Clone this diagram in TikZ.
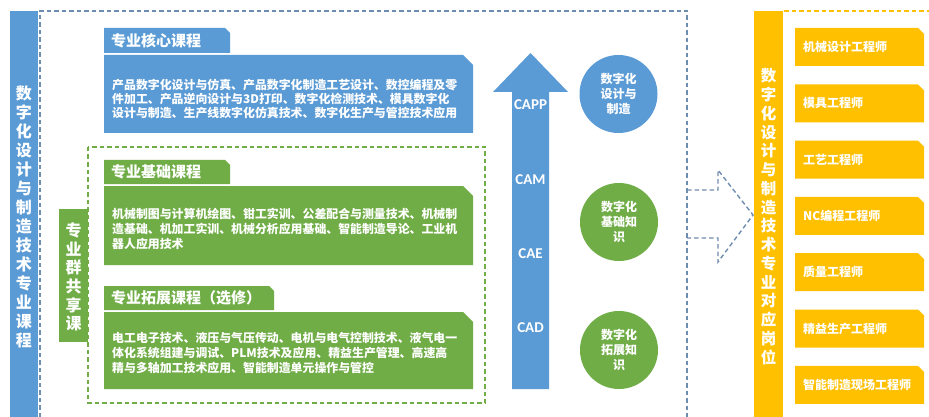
\documentclass[tikz,border=0pt]{standalone}
\usepackage{fontspec}
\setmainfont{Noto Sans CJK SC}
\newfontfamily\latinfont{Carlito}
\definecolor{cblue}{HTML}{5B9BD5}
\definecolor{cgreen}{HTML}{70AD47}
\definecolor{cyellow}{HTML}{FFC000}
\definecolor{cframe}{HTML}{6F8DB1}
\begin{document}
\begin{tikzpicture}[x=1pt,y=-1pt,
  bodytxt/.style={text=white,font=\bfseries\fontsize{11.9}{13.8}\selectfont,align=left,inner sep=0pt,anchor=west},
  headtxt/.style={text=white,font=\bfseries\fontsize{15}{18}\selectfont,inner sep=0pt,anchor=west},
  vtxt/.style={text=white,font=\bfseries\fontsize{16}{19}\selectfont,align=center,inner sep=0pt},
  jobtxt/.style={text=white,font=\bfseries\fontsize{12}{14}\selectfont,inner sep=0pt,anchor=west},
  circtxt/.style={text=white,font=\bfseries\fontsize{12}{15}\selectfont,align=center,inner sep=0pt},
  cadtxt/.style={text=white,font=\latinfont\bfseries\fontsize{15}{16}\selectfont,inner sep=0pt},
  dashline/.style={line width=1.4pt,dash pattern=on 4.5pt off 3pt},
  bigcirc/.style={circle,minimum size=78pt,inner sep=0pt}
]
\useasboundingbox (0,0) rectangle (929,417);
\fill[white] (0,0) rectangle (929,417);

% left blue bar
\fill[cblue] (10,11) rectangle (38,417);
\node[vtxt] (lefttitle) at (24,217) {数\\字\\化\\设\\计\\与\\制\\造\\技\\术\\专\\业\\课\\程};

% blue dashed frame
\draw[cframe,dashline] (40,417) -- (40,11) -- (687,11) -- (687,417);

% dashed arrow
\draw[cframe,dashline] (687,190) -- (718,190) -- (718,170) -- (753,215) -- (718,262) -- (718,238) -- (687,238);

% core course
\fill[cblue] (104,53) -- (104,28) -- (225,28) -- (230,33) -- (230,53) -- cycle;
\node[headtxt] (corehead) at (111,41) {专业核心课程};
\fill[cblue] (104,55) -- (463,55) -- (473,65) -- (473,133) -- (104,133) -- cycle;
\node[bodytxt,font=\bfseries\fontsize{11.9}{13.6}\selectfont] (corebody) at (112,99) {产品数字化设计与仿真、产品数字化制造工艺设计、数控编程及零\\件加工、产品逆向设计与3D打印、数字化检测技术、模具数字化\\设计与制造、生产线数字化仿真技术、数字化生产与管控技术应用};

% green dashed frame
\draw[cgreen,dashline] (88,147) rectangle (485,403);

% shared course bar
\fill[cgreen] (59,209) rectangle (88,342);
\node[vtxt,font=\bfseries\fontsize{16}{18.6}\selectfont] (shared) at (73.5,277) {专\\业\\群\\共\\享\\课};

% foundation course
\fill[cgreen] (104,184) -- (104,160) -- (225,160) -- (230,165) -- (230,184) -- cycle;
\node[headtxt] (basehead) at (111,172) {专业基础课程};
\fill[cgreen] (104,186) -- (463,186) -- (473,196) -- (473,265) -- (104,265) -- cycle;
\node[bodytxt,font=\bfseries\fontsize{11.9}{15}\selectfont] (basebody) at (112,229) {机械制图与计算机绘图、钳工实训、公差配合与测量技术、机械制\\造基础、机加工实训、机械分析应用基础、智能制造导论、工业机\\器人应用技术};

% expansion course
\fill[cgreen] (104,310) -- (104,286) -- (269,286) -- (274,291) -- (274,310) -- cycle;
\node[headtxt] (exthead) at (111,298) {专业拓展课程（选修）};
\fill[cgreen] (104,312) -- (463,312) -- (473,322) -- (473,389) -- (104,389) -- cycle;
\node[bodytxt,font=\bfseries\fontsize{11.9}{15}\selectfont] (extbody) at (112,353) {电工电子技术、液压与气压传动、电机与电气控制技术、液气电一\\体化系统组建与调试、PLM技术及应用、精益生产管理、高速高\\精与多轴加工技术应用、智能制造单元操作与管控};

% big arrow
\fill[cblue] (512,389) -- (512,92) -- (493,92) -- (530.5,53) -- (568,92) -- (549,92) -- (549,389) -- cycle;
\node[cadtxt] (capp) at (530.5,105) {CAPP};
\node[cadtxt] (cam) at (530.5,180) {CAM};
\node[cadtxt] (cae) at (530.5,254) {CAE};
\node[cadtxt] (cad) at (530.5,328) {CAD};

% circles
\node[bigcirc,fill=cblue] (c1) at (618.5,94) {};
\node[circtxt] (c1t) at (c1) {数字化\\设计与\\制造};
\node[bigcirc,fill=cgreen] (c2) at (619,222) {};
\node[circtxt] (c2t) at (c2) {数字化\\基础知\\识};
\node[bigcirc,fill=cgreen] (c3) at (619,350) {};
\node[circtxt] (c3t) at (c3) {数字化\\拓展知\\识};

% yellow bar
\fill[cyellow] (754,11) rectangle (783,417);
\draw[cyellow,dashline] (784,11) -- (929,11);
\node[vtxt,font=\bfseries\fontsize{15.5}{18.75}\selectfont] (righttitle) at (768.5,216.5) {数\\字\\化\\设\\计\\与\\制\\造\\技\\术\\专\\业\\对\\应\\岗\\位};

% job boxes
\foreach \t [count=\i] in {机械设计工程师,模具工程师,工艺工程师,NC编程工程师,质量工程师,精益生产工程师,智能制造现场工程师} {
  \pgfmathsetmacro{\ytop}{28+56.3*(\i-1)}
  \fill[cyellow] (795,\ytop) -- (918,\ytop) -- (924,\ytop+6) -- (924,\ytop+38) -- (795,\ytop+38) -- cycle;
  \node[jobtxt] (job\i) at (803,\ytop+19) {\t};
}
\end{tikzpicture}
\end{document}
